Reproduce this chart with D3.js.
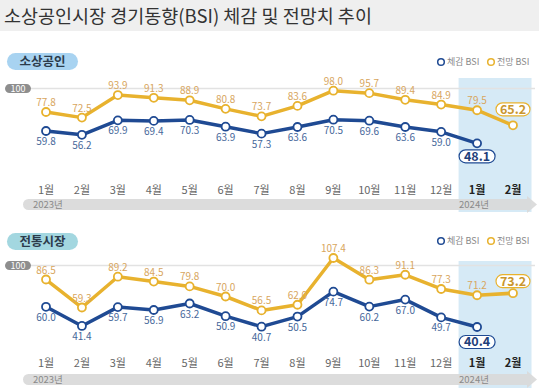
<!DOCTYPE html>
<html><head><meta charset="utf-8">
<script src="https://cdn.jsdelivr.net/npm/d3@7"></script>
<style>body{margin:0;background:#fff}svg{display:block}</style>
</head><body>
<svg id="c" width="539" height="392"></svg>
<script>
const title = "소상공인시장 경기동향(BSI) 체감 및 전망치 추이";
const months = ["1월","2월","3월","4월","5월","6월","7월","8월","9월","10월","11월","12월","1월","2월"];
const yearLabels = ["2023년","2024년"];
const seriesNames = ["체감 BSI","전망 BSI"];
const panelNames = ["소상공인","전통시장"];
const sbCurrent = [59.8,56.2,69.9,69.4,70.3,63.9,57.3,63.6,70.5,69.6,63.6,59.0,48.1];
const sbOutlook = [77.8,72.5,93.9,91.3,88.9,80.8,73.7,83.6,98.0,95.7,89.4,84.9,79.5,65.2];
const tmCurrent = [60.0,41.4,59.7,56.9,63.2,50.9,40.7,50.5,74.7,60.2,67.0,49.7,40.4];
const tmOutlook = [86.5,59.3,89.2,84.5,79.8,70.0,56.5,62.0,107.4,86.3,91.1,77.3,71.2,73.2];
const refValue = 100;

const F = "'Noto Sans CJK KR','Noto Sans',sans-serif";
const svg = d3.select("#c");
const BLUE = "#1f4a93", YEL = "#e8b22e";

svg.append("rect").attr("x",0).attr("y",0).attr("width",539).attr("height",31).attr("fill","#efefef");
svg.append("text").attr("x",4).attr("y",23).attr("font-family",F).attr("font-size",18.5)
  .attr("fill","#333").text(title);

const x = d3.scalePoint().domain(d3.range(months.length)).range([46,513]);

const panels = [
  {name:panelNames[0], cur:sbCurrent, out:sbOutlook, badgeY:53, badgeFill:"#a8d3f1", legendY:62,
   yRange:[88.6,151.9], hlTop:78, hlBot:212, xlabY:194, barY:199, outBoxOff:16, curBoxOff:13},
  {name:panelNames[1], cur:tmCurrent, out:tmOutlook, badgeY:233, badgeFill:"#a3d7e0", legendY:241,
   yRange:[265.6,327.4], hlTop:261, hlBot:388, xlabY:367, barY:374, outBoxOff:12, curBoxOff:15}
];

panels.forEach(p => {
  const g = svg.append("g");
  const y = d3.scaleLinear().domain([100,40]).range(p.yRange);
  const n = months.length;
  [n-2, n-1].forEach(i => {
    g.append("rect").attr("x", x(i)-18.5).attr("y", p.hlTop).attr("width", 37)
      .attr("height", p.hlBot - p.hlTop).attr("fill", "#d6eaf6");
  });
  g.append("rect").attr("x",7).attr("y",p.badgeY).attr("width",71).attr("height",17).attr("rx",8.5).attr("fill",p.badgeFill);
  g.append("text").attr("x",42.5).attr("y",p.badgeY+13).attr("text-anchor","middle").attr("font-family",F)
    .attr("font-size",12.5).attr("font-weight",700).attr("fill","#2b3b4b").text(p.name);
  const lg = g.append("g").attr("font-family",F).attr("font-size",9).attr("fill","#888");
  lg.append("circle").attr("cx",441).attr("cy",p.legendY).attr("r",3.3).attr("fill","#fff").attr("stroke",BLUE).attr("stroke-width",1.5);
  lg.append("text").attr("x",447).attr("y",p.legendY+3.2).text(seriesNames[0]);
  lg.append("circle").attr("cx",491).attr("cy",p.legendY).attr("r",3.3).attr("fill","#fff").attr("stroke",YEL).attr("stroke-width",1.5);
  lg.append("text").attr("x",497).attr("y",p.legendY+3.2).text(seriesNames[1]);
  const yr = y(refValue);
  g.append("line").attr("x1",31).attr("x2",535).attr("y1",yr).attr("y2",yr).attr("stroke","#e2e2e2").attr("stroke-width",1.5);
  g.append("rect").attr("x",5).attr("y",yr-4.5).attr("width",26).attr("height",9).attr("rx",4.5).attr("fill","#8e8e8e");
  g.append("text").attr("x",18).attr("y",yr+3.2).attr("text-anchor","middle").attr("font-family",F)
    .attr("font-size",9).attr("fill","#fff").text(refValue);
  g.selectAll(".xl").data(months).join("text")
    .attr("x",(d,i)=>x(i)).attr("y",p.xlabY).attr("text-anchor","middle").attr("font-family",F)
    .attr("font-size",11).attr("font-weight",(d,i)=> i>=n-2?700:400)
    .attr("fill",(d,i)=> i>=n-2?"#222":"#666").text(d=>d);
  const by = p.barY, bh = 11;
  g.append("path").attr("d",
    `M${23+bh/2},${by} L527,${by} L527,${by-3} L537,${by+bh/2} L527,${by+bh+3} L527,${by+bh} L${23+bh/2},${by+bh} A${bh/2},${bh/2} 0 0 1 ${23+bh/2},${by} Z`)
    .attr("fill","#d9d9d9").attr("opacity",0.92);
  g.append("text").attr("x",33).attr("y",by+9).attr("font-family",F).attr("font-size",9.5).attr("fill","#8a8a8a").text(yearLabels[0]);
  g.append("text").attr("x",x(n-2)-18).attr("y",by+9).attr("font-family",F).attr("font-size",9.5).attr("fill","#8a8a8a").text(yearLabels[1]);

  const line = d3.line().x((d,i)=>x(i)).y(d=>y(d));
  [[p.out,YEL],[p.cur,BLUE]].forEach(([vals,col]) => {
    g.append("path").datum(vals).attr("d",line).attr("fill","none").attr("stroke",col)
      .attr("stroke-width",3.5).attr("stroke-linejoin","round");
  });
  [[p.out,YEL],[p.cur,BLUE]].forEach(([vals,col]) => {
    g.selectAll(null).data(vals).join("circle").attr("cx",(d,i)=>x(i)).attr("cy",d=>y(d)).attr("r",4)
      .attr("fill","#fff").attr("stroke",col).attr("stroke-width",1.8);
  });
  p.out.forEach((v,i) => {
    if (i === p.out.length-1) {
      const cy = y(v) - p.outBoxOff;
      g.append("rect").attr("x",x(i)-17).attr("y",cy-6.5).attr("width",34).attr("height",13).attr("rx",6.5)
        .attr("fill","#fff").attr("stroke",YEL).attr("stroke-width",1.2);
      g.append("text").attr("x",x(i)).attr("y",cy+4.5).attr("text-anchor","middle").attr("font-family",F)
        .attr("font-size",12.5).attr("font-weight",700).attr("fill","#c9962e").text(v.toFixed(1));
    } else {
      g.append("text").attr("x",x(i)).attr("y",y(v)-6).attr("text-anchor","middle").attr("font-family",F)
        .attr("font-size",10).attr("fill","#d8a65e").text(v.toFixed(1));
    }
  });
  p.cur.forEach((v,i) => {
    if (i === p.cur.length-1) {
      const cy = y(v) + p.curBoxOff;
      g.append("rect").attr("x",x(i)-18).attr("y",cy-6.5).attr("width",36).attr("height",13).attr("rx",6.5)
        .attr("fill","#fff").attr("stroke",BLUE).attr("stroke-width",1.2);
      g.append("text").attr("x",x(i)).attr("y",cy+4.5).attr("text-anchor","middle").attr("font-family",F)
        .attr("font-size",12.5).attr("font-weight",700).attr("fill","#1f3f7a").text(v.toFixed(1));
    } else {
      g.append("text").attr("x",x(i)).attr("y",y(v)+14).attr("text-anchor","middle").attr("font-family",F)
        .attr("font-size",10).attr("fill","#46679a").text(v.toFixed(1));
    }
  });
});
</script>
</body></html>
